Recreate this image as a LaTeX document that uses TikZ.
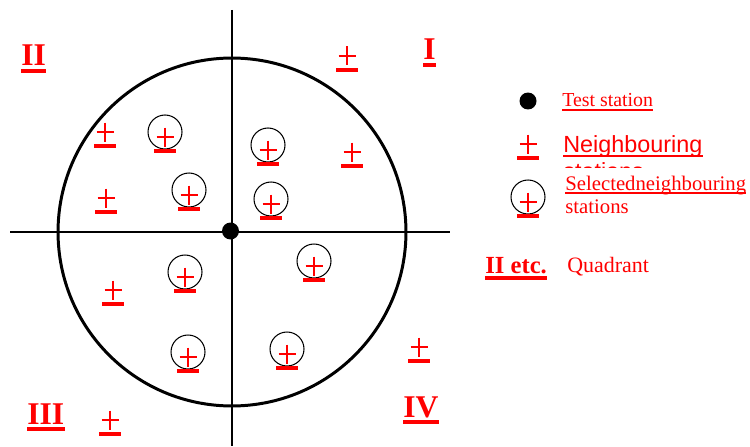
\documentclass[tikz,border=0pt]{standalone}
\usepackage{fontspec}
\setmainfont{Liberation Serif}
\newfontfamily\arialf{Liberation Sans}
\usetikzlibrary{calc}
\tikzset{
  x=0.02cm, y=-0.02cm,
  axis/.style={line width=0.6pt},
  ring/.style={line width=1.7pt},
  pl/.style={red, line width=1.2pt},
  ul/.style={red, line width=2pt},
  thinul/.style={red, line width=1pt},
  sel/.style={line width=0.6pt},
  quad/.style={text=red, font=\fontsize{18}{20}\selectfont\bfseries, anchor=base west, inner sep=0pt},
  legtxt/.style={text=red, font=\fontsize{11.3}{13}\selectfont, anchor=base west, inner sep=0pt},
  nb/.pic={\draw[pl] (-8.5,0)--(8.5,0) (0,-9.5)--(0,9.5); \draw[ul] (-11,14)--(11,14);},
  sn/.pic={\draw[sel] (0,-5) circle[radius=0.34cm]; \draw[pl] (-8.5,0)--(8.5,0) (0,-9.5)--(0,9.5); \draw[ul] (-11,14)--(11,14);}
}
\begin{document}
\begin{tikzpicture}
\useasboundingbox (0,0) rectangle (750,446);
% axes and circle
\coordinate (c) at (232,232);
\draw[axis] (232,10) -- (232,446);
\draw[axis] (10,232) -- (450,232);
\draw[ring] (c) circle[radius=3.48cm];
\fill (230.5,231) circle[radius=0.17cm];
% quadrant labels
\node[quad] (qII) at (21,66) {II};
\node[quad] (qI) at (423,60) {I};
\node[quad] (qIII) at (27,424) {III};
\node[quad] (qIV) at (403,417) {IV};
\foreach \n in {qII,qI,qIII,qIV}
  \draw[ul] ($(\n.base west)+(0,5)$) -- ($(\n.base east)+(0,5)$);
% neighbouring stations
\foreach \p in {(105,132),(347,56),(352,152),(106,198),(113,290),(419,347),(110,420)}
  \pic at \p {nb};
% selected neighbouring stations
\foreach \p in {(165,137),(268,150),(189,195),(271,204),(185,277),(314,266),(188,357),(287,354)}
  \pic at \p {sn};
% legend
\fill (528,101) circle[radius=0.17cm];
\node[legtxt] (lt) at (562,107) {Test station};
\draw[thinul] ($(lt.base west)+(0,3)$) -- ($(lt.base east)+(0,3)$);
\pic at (528,144) {nb};
\node[legtxt, font=\arialf\fontsize{13.3}{15}\selectfont] (ln) at (563,153) {Neighbouring};
\draw[thinul] ($(ln.base west)+(0,3)$) -- ($(ln.base east)+(0,3)$);
\begin{scope}
  \clip (555,158) rectangle (720,167);
  \node[legtxt, font=\arialf\fontsize{13.3}{15}\selectfont] (ls) at (563,179) {stations};
\end{scope}
\pic at (528,202) {sn};
\node[legtxt, font=\fontsize{11.8}{13}\selectfont] (lsel) at (565,190) {Selectedneighbouring};
\draw[thinul] ($(lsel.base west)+(0,3)$) -- ($(lsel.base east)+(0,3)$);
\node[legtxt, font=\fontsize{11.8}{13}\selectfont] (lst) at (565,213) {stations};
\node[quad, font=\fontsize{14}{16}\selectfont\bfseries] (lq) at (485,273) {II etc.};
\draw[ul] ($(lq.base west)+(0,5)$) -- ($(lq.base east)+(0,5)$);
\node[legtxt, font=\fontsize{12.5}{14}\selectfont] (lqd) at (567,272) {Quadrant};
\end{tikzpicture}
\end{document}
